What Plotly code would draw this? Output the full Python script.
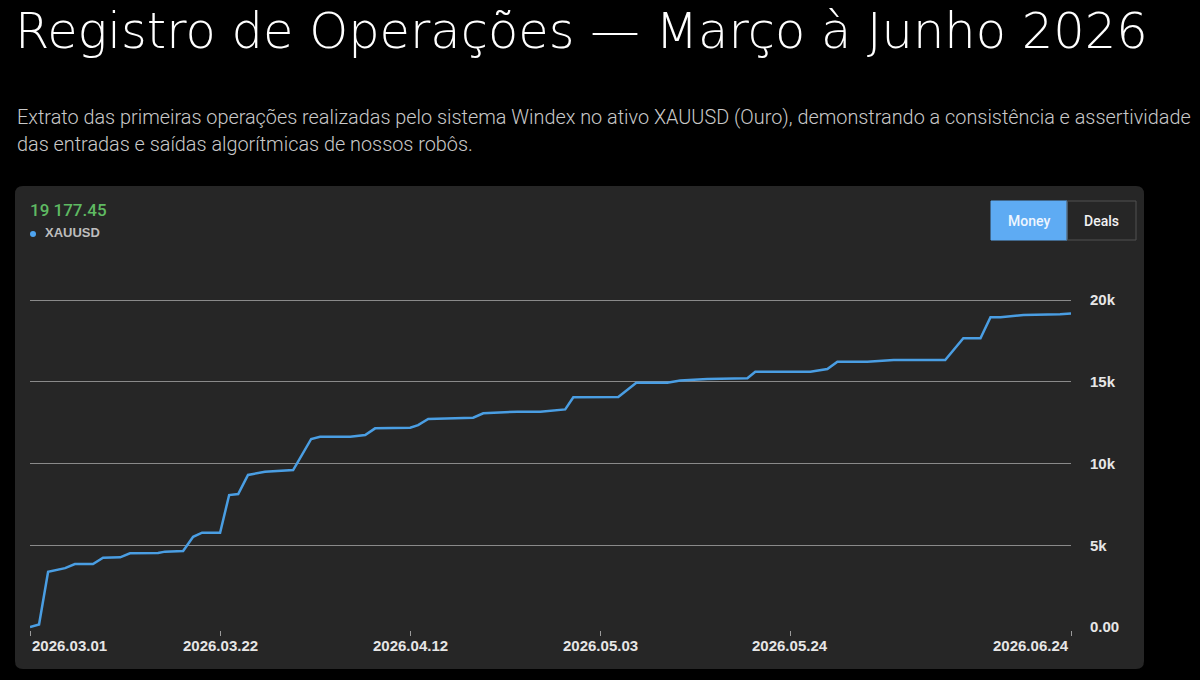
import plotly.graph_objects as go

# ---------------- data ----------------
dates = [
    "2026-03-01 00:00", "2026-03-02 00:00", "2026-03-03 00:00", "2026-03-04 21:00",
    "2026-03-05 23:00", "2026-03-07 23:00", "2026-03-09 01:40", "2026-03-10 23:00",
    "2026-03-12 01:00", "2026-03-15 03:30", "2026-03-15 22:00", "2026-03-17 22:00",
    "2026-03-19 00:30", "2026-03-20 00:15", "2026-03-22 00:00", "2026-03-23 00:00",
    "2026-03-24 00:00", "2026-03-25 02:00", "2026-03-26 23:00", "2026-03-30 01:40",
    "2026-04-01 01:30", "2026-04-02 01:00", "2026-04-05 09:00", "2026-04-07 00:40",
    "2026-04-08 03:00", "2026-04-12 00:00", "2026-04-12 21:00", "2026-04-13 23:45",
    "2026-04-18 23:00", "2026-04-20 01:40", "2026-04-23 20:00", "2026-04-26 09:00",
    "2026-04-29 03:00", "2026-04-30 00:30", "2026-05-04 23:45", "2026-05-05 23:30",
    "2026-05-06 23:30", "2026-05-10 09:40", "2026-05-11 20:00", "2026-05-14 20:00",
    "2026-05-19 06:00", "2026-05-20 03:00", "2026-05-26 05:00", "2026-05-28 02:00",
    "2026-05-29 04:40", "2026-06-01 12:00", "2026-06-04 09:40", "2026-06-10 02:30",
    "2026-06-12 02:30", "2026-06-14 00:00", "2026-06-15 02:30", "2026-06-16 05:00",
    "2026-06-18 18:00", "2026-06-22 19:00", "2026-06-24 00:00",
]
balance = [
    0, 150, 3380, 3600,
    3850, 3850, 4240, 4260,
    4510, 4530, 4610, 4650,
    5520, 5770, 5770, 8070,
    8130, 9300, 9500, 9600,
    11500, 11640, 11640, 11740,
    12150, 12190, 12350, 12720,
    12800, 13070, 13170, 13170,
    13310, 14050, 14070, 14500,
    14940, 14940, 15070, 15170,
    15210, 15615, 15615, 15780,
    16230, 16230, 16330, 16330,
    17660, 17660, 18940, 18940,
    19080, 19125, 19177.45,
]
series_name = "XAUUSD"
x_tick_dates = ["2026-03-01", "2026-03-22", "2026-04-12", "2026-05-03", "2026-05-24", "2026-06-24"]
x_tick_labels = ["2026.03.01", "2026.03.22", "2026.04.12", "2026.05.03", "2026.05.24", "2026.06.24"]
y_tick_vals = [0, 5000, 10000, 15000, 20000]
y_tick_labels = ["0.00", "5k", "10k", "15k", "20k"]
title_text = "Registro de Operações — Março à Junho 2026"
subtitle_lines = [
    "Extrato das primeiras operações realizadas pelo sistema Windex no ativo XAUUSD (Ouro), demonstrando a consistência e assertividade",
    "das entradas e saídas algorítmicas de nossos robôs.",
]
buttons = ["Money", "Deals"]

# ---------------- layout geometry (pixels) ----------------
W, H = 1200, 680
PL, PR, PT, PB = 30, 1071, 280, 630  # plot area edges
PW, PH = PR - PL, PB - PT


def fx(px):
    return (px - PL) / PW


def fy(py):
    return (PB - py) / PH


LINE_BLUE = "#4a9ee3"
CARD = "#262626"

fig = go.Figure()
fig.add_trace(go.Scatter(
    x=dates, y=balance, mode="lines", name=series_name,
    line=dict(color=LINE_BLUE, width=2.5), showlegend=False,
    hoverinfo="skip",
))


def rrect(x0, y0, x1, y1, r):
    rx = r / PW
    ry = r / PH
    X0, X1 = fx(x0), fx(x1)
    Y0, Y1 = fy(y0), fy(y1)
    return (f"M {X0+rx},{Y0} L {X1-rx},{Y0} Q {X1},{Y0} {X1},{Y0-ry} "
            f"L {X1},{Y1+ry} Q {X1},{Y1} {X1-rx},{Y1} L {X0+rx},{Y1} "
            f"Q {X0},{Y1} {X0},{Y1+ry} L {X0},{Y0-ry} Q {X0},{Y0} {X0+rx},{Y0} Z")


shapes = [
    dict(type="path", path=rrect(15, 186, 1144, 669, 8), xref="paper", yref="paper",
         fillcolor=CARD, line=dict(width=0), layer="below"),
    dict(type="rect", xref="paper", yref="paper", x0=fx(991), x1=fx(1067), y0=fy(240), y1=fy(201),
         fillcolor="#5eabf3", line=dict(color="#5eabf3", width=1), layer="above"),
    dict(type="rect", xref="paper", yref="paper", x0=fx(1067), x1=fx(1136), y0=fy(240), y1=fy(201),
         fillcolor="rgba(0,0,0,0)", line=dict(color="#505050", width=1), layer="above"),
    dict(type="circle", xref="paper", yref="paper", x0=fx(30), x1=fx(36), y0=fy(237), y1=fy(231),
         fillcolor="#4ea4f0", line=dict(width=0), layer="above"),
]

annotations = [
    dict(text=title_text, xref="paper", yref="paper", x=fx(13), y=fy(0), xanchor="left", yanchor="top",
         showarrow=False, font=dict(family="DejaVu Sans", size=49.5, color="#ffffff", weight=200)),
    dict(text=subtitle_lines[0], xref="paper", yref="paper", x=fx(15), y=fy(117), xanchor="left", yanchor="middle",
         showarrow=False, font=dict(family="Roboto", size=19.85, color="#c9c9c9", weight=300)),
    dict(text=subtitle_lines[1], xref="paper", yref="paper", x=fx(15), y=fy(144), xanchor="left", yanchor="middle",
         showarrow=False, font=dict(family="Roboto", size=19.85, color="#c9c9c9", weight=300)),
    dict(text=f"{balance[-1]:,.2f}".replace(",", " "), xref="paper", yref="paper", x=fx(28), y=fy(210),
         xanchor="left", yanchor="middle", showarrow=False,
         font=dict(family="Roboto", size=17, color="#5fba62", weight=500)),
    dict(text=series_name, xref="paper", yref="paper", x=fx(43), y=fy(233), xanchor="left", yanchor="middle",
         showarrow=False, font=dict(family="Liberation Sans", size=13, color="#bdbdbd", weight="bold")),
    dict(text=buttons[0], xref="paper", yref="paper", x=fx(1029), y=fy(221), xanchor="center", yanchor="middle",
         showarrow=False, font=dict(family="Roboto", size=14, color="#eef6ff", weight=500)),
    dict(text=buttons[1], xref="paper", yref="paper", x=fx(1101.5), y=fy(221), xanchor="center", yanchor="middle",
         showarrow=False, font=dict(family="Roboto", size=14, color="#f2f2f2", weight=500)),
]

for i, (d, lab) in enumerate(zip(x_tick_dates, x_tick_labels)):
    anchor = "left" if i == 0 else ("right" if i == len(x_tick_dates) - 1 else "center")
    annotations.append(dict(text=lab, xref="x", yref="paper", x=d, y=fy(645), xanchor=anchor,
                            yanchor="middle", showarrow=False,
                            font=dict(family="Liberation Sans", size=15, color="#e6e6e6", weight="bold")))

fig.update_layout(
    width=W, height=H,
    margin=dict(l=PL, r=W - PR, t=PT, b=H - PB, pad=0),
    paper_bgcolor="#000000",
    plot_bgcolor="rgba(0,0,0,0)",
    shapes=shapes,
    annotations=annotations,
    showlegend=False,
    xaxis=dict(
        type="date", range=["2026-03-01", "2026-06-24"],
        tickvals=x_tick_dates, ticktext=x_tick_labels, showticklabels=False,
        ticks="outside", ticklen=5, tickcolor="#9a9a9a", tickwidth=1,
        showgrid=False, zeroline=False, showline=False, fixedrange=True,
    ),
    yaxis=dict(
        side="right", range=[-183, 21223],
        tickvals=y_tick_vals, ticktext=y_tick_labels, ticks="",
        ticklabelstandoff=18,
        tickfont=dict(family="Liberation Sans", size=15, color="#e6e6e6", weight="bold"),
        showgrid=True, gridcolor="#8a8a8a", gridwidth=1,
        zeroline=True, zerolinecolor=CARD, zerolinewidth=1,
        showline=False, fixedrange=True,
    ),
)

fig.write_html("out.html")
